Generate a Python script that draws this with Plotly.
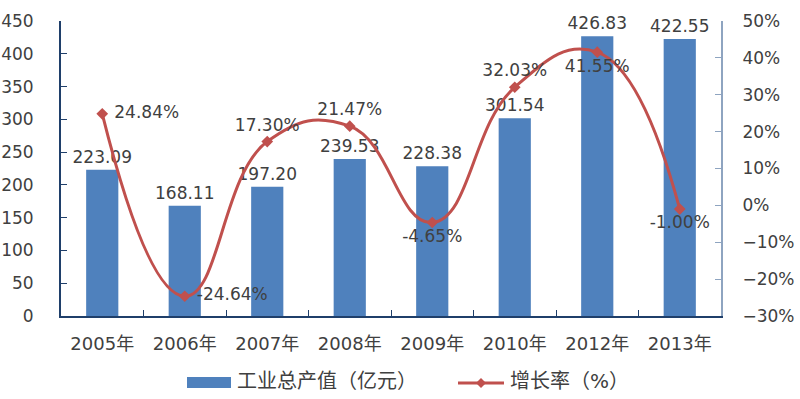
import plotly.graph_objects as go

years = ["2005年", "2006年", "2007年", "2008年", "2009年", "2010年", "2012年", "2013年"]
output_values = [223.09, 168.11, 197.20, 239.53, 228.38, 301.54, 426.83, 422.55]
growth_rates = [24.84, -24.64, 17.30, 21.47, -4.65, 32.03, 41.55, -1.00]
rate_text_pos = ["middle right", "middle right", "top center", "top center",
                 "bottom center", "top center", "bottom center", "bottom center"]
legend_labels = ["工业总产值（亿元）", "增长率（%）"]

FONT = "DejaVu Sans, Noto Sans CJK SC"
TXT = "#404040"
BAR_C = "#4F81BD"
LINE_C = "#C0504D"

L, T, PW, PH = 61, 21, 660, 295
W, H = 800, 399


def px(x):
    return (x - L) / PW


def py(y):
    return (T + PH - y) / PH


fig = go.Figure()
fig.add_trace(go.Bar(
    x=years, y=output_values, name=legend_labels[0],
    marker=dict(color=BAR_C, line=dict(width=0)),
    text=[f"{v:.2f}" for v in output_values], textposition="outside",
    constraintext="none",
    textfont=dict(size=17, color=TXT, family=FONT), cliponaxis=False,
    yaxis="y",
))
fig.add_trace(go.Scatter(
    x=years, y=growth_rates, name=legend_labels[1], mode="lines+markers+text",
    line=dict(color=LINE_C, width=3, shape="spline", smoothing=1.3),
    marker=dict(symbol="diamond", size=9, color=LINE_C),
    text=[(" " if p == "middle right" else "") + f"{v:.2f}%"
          for v, p in zip(growth_rates, rate_text_pos)],
    textposition=rate_text_pos,
    textfont=dict(size=17, color=TXT, family=FONT), cliponaxis=False,
    yaxis="y2",
))

# manual legend (wide swatches like the reference)
cx, cy = px(481), py(383)
dx, dy = 5 / PW, 5 / PH
shapes = [
    dict(type="rect", xref="paper", yref="paper", x0=px(187), x1=px(231),
         y0=py(377), y1=py(388), fillcolor=BAR_C, line=dict(width=0)),
    dict(type="line", xref="paper", yref="paper", x0=px(458), x1=px(504),
         y0=py(383), y1=py(383), line=dict(color=LINE_C, width=3)),
    dict(type="path", xref="paper", yref="paper",
         path=f"M {cx - dx} {cy} L {cx} {cy + dy} L {cx + dx} {cy} L {cx} {cy - dy} Z",
         fillcolor=LINE_C, line=dict(width=0)),
]
annotations = [
    dict(xref="paper", yref="paper", x=px(235), y=py(381),
         text=legend_labels[0], showarrow=False, xanchor="left", yanchor="middle",
         font=dict(size=20, color=TXT, family=FONT)),
    dict(xref="paper", yref="paper", x=px(508), y=py(381),
         text=legend_labels[1], showarrow=False, xanchor="left", yanchor="middle",
         font=dict(size=20, color=TXT, family=FONT)),
]

fig.update_layout(
    width=W, height=H,
    margin=dict(l=L, r=W - L - PW, t=T, b=H - T - PH, autoexpand=False),
    plot_bgcolor="white", paper_bgcolor="white",
    font=dict(family=FONT, size=17, color=TXT),
    bargap=0.61,
    showlegend=False,
    shapes=shapes, annotations=annotations,
    xaxis=dict(type="category", showline=True, linecolor="#1F3F6A", linewidth=2,
               ticks="inside", ticklen=6, tickcolor="#1F3F6A", tickson="boundaries",
               tickfont=dict(size=18, color=TXT), showgrid=False, ticklabelstandoff=10,
               automargin=False),
    yaxis=dict(range=[0, 450], dtick=50, showline=True, linecolor="#1F3F6A", linewidth=2,
               ticks="inside", ticklen=6, tickcolor="#1F3F6A", showgrid=False,
               zeroline=False, tickfont=dict(size=17, color=TXT), ticklabelstandoff=22,
               automargin=False),
    yaxis2=dict(range=[-30, 50], dtick=10, ticksuffix="%", overlaying="y", side="right",
                showline=True, linecolor="#8EA4C0", linewidth=2, ticks="inside", ticklen=6,
                tickcolor="#8EA4C0", showgrid=False, zeroline=False,
                tickfont=dict(size=17, color=TXT), ticklabelstandoff=16, automargin=False),
)

fig.write_html("out.html", config={"displayModeBar": False},
               post_script="document.body.style.margin='0';")
